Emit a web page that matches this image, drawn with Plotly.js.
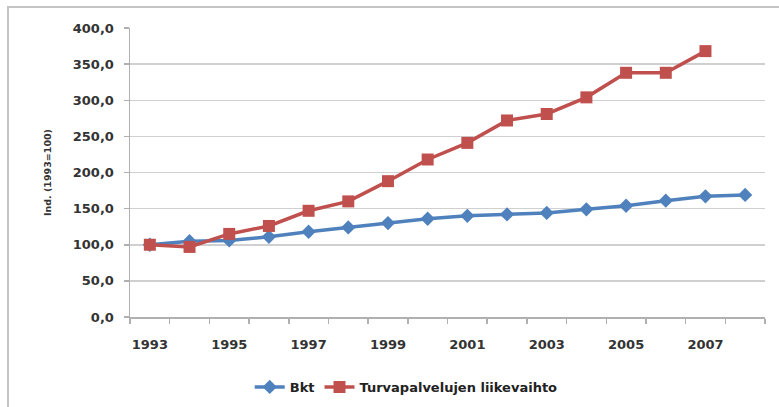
<!DOCTYPE html>
<html>
<head>
<meta charset="utf-8">
<script src="https://cdn.plot.ly/plotly-3.0.1.min.js"></script>
<style>
html,body{margin:0;padding:0;background:#fff;}
#wrap{position:relative;width:779px;height:407px;overflow:hidden;}
#frame{position:absolute;left:7px;top:6px;width:800px;height:420px;border:2px solid #c4c4c4;box-sizing:border-box;}
#chart{position:absolute;left:0;top:0;width:779px;height:407px;}
</style>
</head>
<body>
<div id="wrap">
<div id="frame"></div>
<div id="chart"></div>
</div>
<script>
const years = [1993,1994,1995,1996,1997,1998,1999,2000,2001,2002,2003,2004,2005,2006,2007,2008];
const bkt = [100,105,106,111,118,124,130,136,140,142,144,149,154,161,167,169];
const turvaYears = [1993,1994,1995,1996,1997,1998,1999,2000,2001,2002,2003,2004,2005,2006,2007];
const turva = [100,97,115,126,147,160,188,218,241,272,281,304,338,338,368];
const xTickVals = [1993,1995,1997,1999,2001,2003,2005,2007];
const xTickText = ["1993","1995","1997","1999","2001","2003","2005","2007"];

const FONT = '"DejaVu Sans", sans-serif';

const traces = [
  {x: years, y: bkt, name: 'Bkt', type: 'scatter', mode: 'lines+markers',
   line: {color: '#4F81BD', width: 3.5},
   marker: {symbol: 'diamond', size: 11, color: '#4F81BD'}},
  {x: turvaYears, y: turva, name: 'Turvapalvelujen liikevaihto', type: 'scatter', mode: 'lines+markers',
   line: {color: '#C0504D', width: 3.5},
   marker: {symbol: 'square', size: 12, color: '#C0504D'}}
];

const layout = {
  width: 779, height: 407,
  margin: {l: 130, r: 14, t: 28, b: 90, autoexpand: false},
  paper_bgcolor: 'rgba(0,0,0,0)',
  plot_bgcolor: '#fff',
  font: {family: FONT, color: '#333', size: 12},
  separators: ', ',
  showlegend: true,
  legend: {orientation: 'h', x: 0.435, xanchor: 'center', y: -0.242, yanchor: 'middle',
           font: {size: 13, color: '#222', family: FONT, weight: 'bold'}, traceorder: 'normal'},
  xaxis: {
    automargin: false,
    range: [1992.5, 2008.5], tickmode: 'array', tickvals: xTickVals, ticktext: xTickText,
    ticks: '', showgrid: false, zeroline: false,
    showline: true, linecolor: '#b0b0b0', linewidth: 1.5,
    tickfont: {size: 13, color: '#333', family: FONT, weight: 'bold'},
    ticklabelstandoff: 15,
    minor: {tickmode: 'linear', tick0: 1992.5, dtick: 1, ticks: 'outside', ticklen: 5,
            tickcolor: '#b0b0b0', tickwidth: 1.5, showgrid: false}
  },
  yaxis: {
    automargin: false,
    range: [0, 400], dtick: 50, tick0: 0, tickformat: '.1f',
    showgrid: true, gridcolor: '#d0d0d0', gridwidth: 1.5, zeroline: false,
    showline: true, linecolor: '#b0b0b0', linewidth: 1.5,
    ticks: 'outside', ticklen: 5, tickcolor: '#b0b0b0', tickwidth: 1.5,
    tickfont: {size: 13, color: '#333', family: FONT, weight: 'bold'},
    ticklabelstandoff: 7,
    title: {text: 'Ind. (1993=100)', font: {size: 9.5, color: '#333', family: FONT, weight: 'bold'}, standoff: 19}
  }
};

Plotly.newPlot('chart', traces, layout, {displayModeBar: false, staticPlot: true});
</script>
</body>
</html>
